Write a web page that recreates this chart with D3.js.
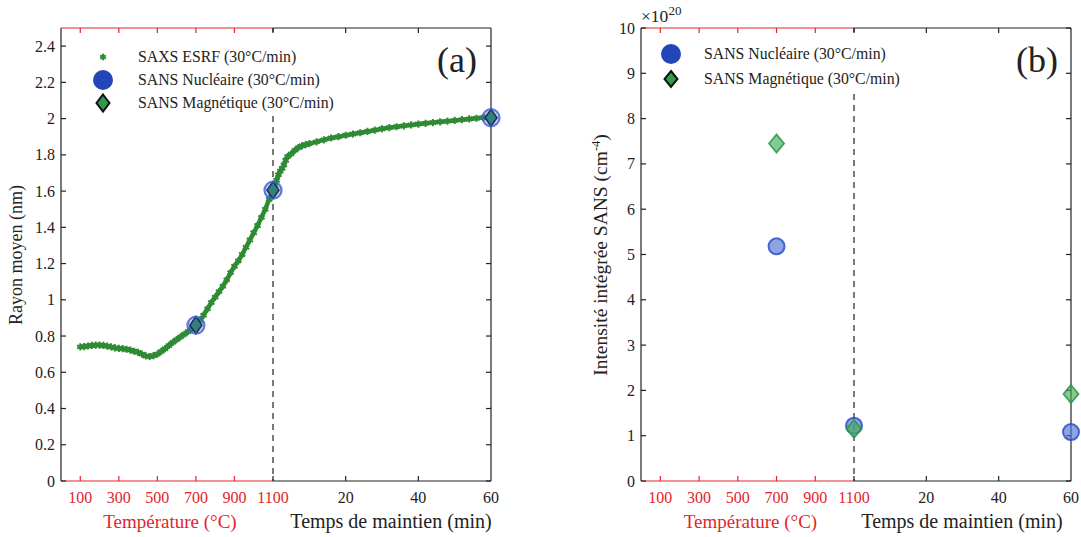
<!DOCTYPE html>
<html><head><meta charset="utf-8">
<script src="https://cdn.jsdelivr.net/npm/d3@7"></script>
<style>body{margin:0;background:#fff}svg{display:block}</style>
</head><body>
<svg id="c" width="1081" height="537" font-family="'Liberation Serif', 'Times New Roman', Times, 'DejaVu Serif', serif"></svg>
<script>
// ---- data ----
const tempTicks = [100, 300, 500, 700, 900, 1100];
const tempTickLabels = ["100", "300", "500", "700", "900", "1100"];
const timeTicks = [20, 40, 60];
const timeTickLabels = ["20", "40", "60"];
const yTicksA = [0, 0.2, 0.4, 0.6, 0.8, 1, 1.2, 1.4, 1.6, 1.8, 2, 2.2, 2.4];
const yTickLabelsA = ["0", "0.2", "0.4", "0.6", "0.8", "1", "1.2", "1.4", "1.6", "1.8", "2", "2.2", "2.4"];
const yTicksB = [0, 1, 2, 3, 4, 5, 6, 7, 8, 9, 10];
const yTickLabelsB = ["0", "1", "2", "3", "4", "5", "6", "7", "8", "9", "10"];

// SAXS ESRF, heating stage (temperature °C -> radius nm)
const saxsTemp = [100,120,140,160,180,200,220,240,260,280,300,320,340,360,380,400,420,440,460,480,500,520,540,560,580,600,620,640,660,680,700,720,740,760,780,800,820,840,860,880,900,920,940,960,980,1000,1020,1040,1060,1080,1100];
const saxsTempR = [0.740,0.742,0.745,0.748,0.750,0.750,0.748,0.744,0.740,0.735,0.732,0.730,0.727,0.722,0.716,0.710,0.700,0.690,0.687,0.692,0.700,0.715,0.730,0.748,0.765,0.780,0.795,0.810,0.825,0.842,0.862,0.885,0.915,0.950,0.985,1.015,1.045,1.075,1.110,1.150,1.185,1.215,1.250,1.290,1.330,1.370,1.410,1.455,1.500,1.555,1.605];
// SAXS ESRF, holding stage (time min -> radius nm)
const saxsTime = [0,0.5,1,1.5,2,2.5,3,3.5,4,5,6,7,8,9,10,12,14,16,18,20,22,24,26,28,30,32,34,36,38,40,42,44,46,48,50,52,54,56,58,60];
const saxsTimeR = [1.605,1.63,1.66,1.69,1.71,1.725,1.745,1.77,1.79,1.805,1.825,1.84,1.85,1.856,1.862,1.872,1.883,1.893,1.90,1.908,1.915,1.922,1.929,1.936,1.944,1.950,1.955,1.960,1.965,1.970,1.974,1.978,1.982,1.986,1.990,1.994,1.998,2.002,2.006,2.010];

// SANS points: stage "T" = temperature (°C), "t" = holding time (min)
const sansStage = ["T", "t", "t"];
const sansX = [700, 0, 60];
const sansNucA = [0.86, 1.605, 2.005];
const sansMagA = [0.86, 1.605, 2.005];
const sansNucB = [5.18, 1.22, 1.08];
const sansMagB = [7.45, 1.15, 1.92];

// ---- drawing ----
const svg = d3.select("#c");
const RED = "#e3242b", BLACK = "#222";
const yTop = 28, yBot = 481;

function makePanel(p) {
  const g = svg.append("g");
  const xT = d3.scaleLinear().domain([0, 1100]).range([p.left, p.split]);
  const xt = d3.scaleLinear().domain([0, 60]).range([p.split, p.right]);
  const y = d3.scaleLinear().domain(p.yDomain).range([yBot, yTop]);
  const px = (stage, v) => stage === "T" ? xT(v) : xt(v);

  g.append("line").attr("x1", xT(1100)).attr("x2", xT(1100)).attr("y1", yTop).attr("y2", yBot)
    .attr("stroke", "#333").attr("stroke-width", 1.3).attr("stroke-dasharray", "6,5");
  g.append("rect").attr("x", p.left + 4).attr("y", yTop + 4).attr("width", p.legW).attr("height", p.legH).attr("fill", "#fff");

  g.append("line").attr("x1", p.left).attr("x2", p.left).attr("y1", yTop).attr("y2", yBot).attr("stroke", BLACK).attr("stroke-width", 1.2);
  g.append("line").attr("x1", p.right).attr("x2", p.right).attr("y1", yTop).attr("y2", yBot).attr("stroke", BLACK).attr("stroke-width", 1.2);
  [yTop, yBot].forEach(yy => {
    g.append("line").attr("x1", p.split).attr("x2", p.right).attr("y1", yy).attr("y2", yy).attr("stroke", BLACK).attr("stroke-width", 1.2);
    g.append("line").attr("x1", p.left).attr("x2", p.split).attr("y1", yy).attr("y2", yy).attr("stroke", RED).attr("stroke-width", 1.2);
  });

  tempTicks.forEach((t, i) => {
    const c = t === 1100 ? BLACK : RED;
    [[yBot, -5], [yTop, 5]].forEach(([yy, d]) => g.append("line").attr("x1", xT(t)).attr("x2", xT(t)).attr("y1", yy).attr("y2", yy + d).attr("stroke", c).attr("stroke-width", 1.2));
    g.append("text").attr("x", xT(t)).attr("y", 503).attr("text-anchor", "middle").attr("font-size", 16).attr("fill", RED).text(tempTickLabels[i]);
  });
  timeTicks.forEach((t, i) => {
    if (t < 60) [[yBot, -5], [yTop, 5]].forEach(([yy, d]) => g.append("line").attr("x1", xt(t)).attr("x2", xt(t)).attr("y1", yy).attr("y2", yy + d).attr("stroke", BLACK).attr("stroke-width", 1.2));
    g.append("text").attr("x", xt(t)).attr("y", 503).attr("text-anchor", "middle").attr("font-size", 16).attr("fill", BLACK).text(timeTickLabels[i]);
  });
  g.append("text").attr("x", (p.left + p.split) / 2 + 3).attr("y", 528).attr("text-anchor", "middle").attr("font-size", 19).attr("fill", RED).text("Température (°C)");
  g.append("text").attr("x", p.timeTitleX).attr("y", 528).attr("text-anchor", "middle").attr("font-size", 20).attr("fill", BLACK).text("Temps de maintien (min)");

  p.yTicks.forEach((v, i) => {
    g.append("line").attr("x1", p.left).attr("x2", p.left + 5).attr("y1", y(v)).attr("y2", y(v)).attr("stroke", BLACK).attr("stroke-width", 1.2);
    g.append("line").attr("x1", p.right).attr("x2", p.right - 5).attr("y1", y(v)).attr("y2", y(v)).attr("stroke", BLACK).attr("stroke-width", 1.2);
    g.append("text").attr("x", p.left - 6).attr("y", y(v) + 5.5).attr("text-anchor", "end").attr("font-size", 16).attr("fill", BLACK).text(p.yLabels[i]);
  });
  return {g, xT, xt, y, px};
}

// ---------- Panel (a) ----------
const A = makePanel({left: 61, split: 273, right: 491, timeTitleX: 391, yDomain: [0, 2.5], yTicks: yTicksA, yLabels: yTickLabelsA, legW: 282, legH: 84});
{
  const {g, xT, xt, y, px} = A;
  const green = "#2f8b33";
  const pts = saxsTemp.map((t, i) => [xT(t), y(saxsTempR[i])]).concat(saxsTime.map((t, i) => [xt(t), y(saxsTimeR[i])]));
  g.append("path").attr("d", d3.line()(pts)).attr("fill", "none").attr("stroke", green).attr("stroke-width", 4.5).attr("stroke-linejoin", "round");
  const star = d3.symbol().type(d3.symbolAsterisk).size(36);
  g.selectAll(".s").data(pts).join("path").attr("transform", d => `translate(${d[0]},${d[1]})`).attr("d", star())
    .attr("stroke", green).attr("stroke-width", 2).attr("fill", "none");
  const diamond = "M0,-8.5L6,0L0,8.5L-6,0Z";
  sansStage.forEach((s, i) => {
    g.append("path").attr("transform", `translate(${px(s, sansX[i])},${y(sansMagA[i])})`).attr("d", diamond)
      .attr("fill", "#2a8a5a").attr("stroke", "#111").attr("stroke-width", 1.5);
    g.append("circle").attr("cx", px(s, sansX[i])).attr("cy", y(sansNucA[i])).attr("r", 8.5)
      .attr("fill", "rgba(70,110,220,0.30)").attr("stroke", "rgba(60,95,215,0.8)").attr("stroke-width", 2.2);
  });
  const lx = 103, tx = 138;
  g.append("path").attr("transform", `translate(${lx},57)`).attr("d", d3.symbol().type(d3.symbolAsterisk).size(30)()).attr("stroke", green).attr("stroke-width", 2).attr("fill", "none");
  g.append("circle").attr("cx", lx).attr("cy", 80).attr("r", 10).attr("fill", "#2246b8");
  g.append("path").attr("transform", `translate(${lx},103)`).attr("d", "M0,-8.5L6.5,0L0,8.5L-6.5,0Z").attr("fill", "#2e9a4a").attr("stroke", "#111").attr("stroke-width", 2);
  [["SAXS ESRF (30°C/min)", 57], ["SANS Nucléaire (30°C/min)", 80], ["SANS Magnétique (30°C/min)", 103]].forEach(([t, yy]) =>
    g.append("text").attr("x", tx).attr("y", yy + 5).attr("font-size", 15.8).attr("fill", BLACK).text(t));
  g.append("text").attr("x", 477).attr("y", 72).attr("text-anchor", "end").attr("font-size", 36).attr("fill", BLACK).text("(a)");
  g.append("text").attr("transform", "translate(22,255) rotate(-90)").attr("text-anchor", "middle").attr("font-size", 18).attr("fill", BLACK).text("Rayon moyen (nm)");
}

// ---------- Panel (b) ----------
const B = makePanel({left: 641, split: 854, right: 1071, timeTitleX: 962, yDomain: [0, 10], yTicks: yTicksB, yLabels: yTickLabelsB, legW: 264, legH: 60});
{
  const {g, y, px} = B;
  const diamond = "M0,-9L7.5,0L0,9L-7.5,0Z";
  sansStage.forEach((s, i) => {
    g.append("circle").attr("cx", px(s, sansX[i])).attr("cy", y(sansNucB[i])).attr("r", 8)
      .attr("fill", "rgba(80,115,215,0.65)").attr("stroke", "rgba(45,80,200,0.85)").attr("stroke-width", 2);
  });
  sansStage.forEach((s, i) => {
    g.append("path").attr("transform", `translate(${px(s, sansX[i])},${y(sansMagB[i])})`).attr("d", diamond)
      .attr("fill", "rgba(70,170,90,0.65)").attr("stroke", "rgba(40,150,70,0.85)").attr("stroke-width", 1.8);
  });
  const lx = 671, tx = 704;
  g.append("circle").attr("cx", lx).attr("cy", 54).attr("r", 10).attr("fill", "#2246b8");
  g.append("path").attr("transform", `translate(${lx},79)`).attr("d", "M0,-8L6.5,0L0,8L-6.5,0Z").attr("fill", "#2e9a4a").attr("stroke", "#111").attr("stroke-width", 2);
  [["SANS Nucléaire (30°C/min)", 54], ["SANS Magnétique (30°C/min)", 79]].forEach(([t, yy]) =>
    g.append("text").attr("x", tx).attr("y", yy + 5).attr("font-size", 15.8).attr("fill", BLACK).text(t));
  g.append("text").attr("x", 1058).attr("y", 72).attr("text-anchor", "end").attr("font-size", 36).attr("fill", BLACK).text("(b)");
  const yl = g.append("text").attr("transform", "translate(607,255) rotate(-90)").attr("text-anchor", "middle").attr("font-size", 19.5).attr("fill", BLACK);
  yl.append("tspan").text("Intensité intégrée SANS (cm");
  yl.append("tspan").attr("font-size", 12.5).attr("dy", -7).text("-4");
  yl.append("tspan").attr("dy", 7).text(")");
  const ex = g.append("text").attr("x", 641).attr("y", 22).attr("font-size", 17.5).attr("fill", BLACK);
  ex.append("tspan").text("×10");
  ex.append("tspan").attr("font-size", 13).attr("dy", -7).text("20");
}
</script>
</body></html>
